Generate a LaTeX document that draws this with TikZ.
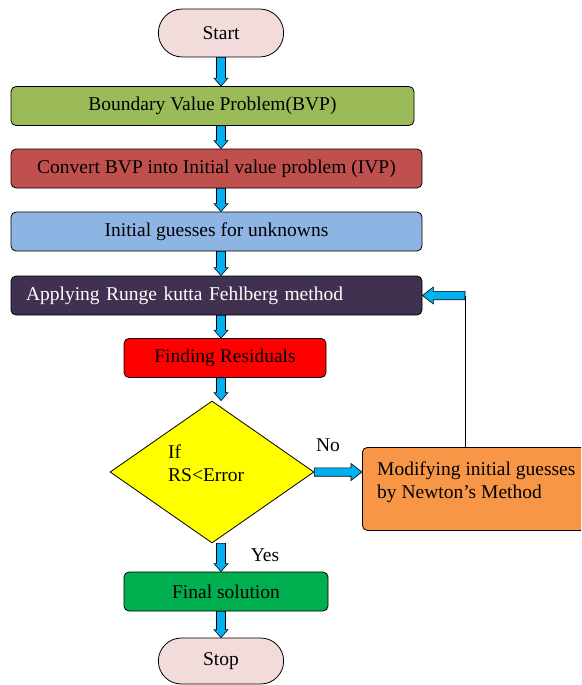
\documentclass[tikz,border=0pt]{standalone}
\usepackage{fontspec}
\setmainfont{Liberation Serif}
\usetikzlibrary{shapes.geometric,shapes.misc,calc}

\definecolor{flowpink}{RGB}{242,220,219}
\definecolor{flowolive}{RGB}{155,187,89}
\definecolor{flowbrick}{RGB}{192,80,77}
\definecolor{flowsky}{RGB}{142,180,227}
\definecolor{flowplum}{RGB}{64,49,81}
\definecolor{flowred}{RGB}{255,0,0}
\definecolor{flowyellow}{RGB}{255,255,0}
\definecolor{floworange}{RGB}{247,150,70}
\definecolor{flowgreen}{RGB}{0,176,80}
\definecolor{flowarrow}{RGB}{0,176,240}

\newcommand{\bashaft}{4.5pt}
\newcommand{\bahead}{7pt}
\newcommand{\balength}{8pt}

\tikzset{
  blockarrow/.style={draw=black,fill=flowarrow,line width=0.6pt,
    to path={($(\tikztostart)!\bashaft!90:(\tikztotarget)$)
      -- ($(\tikztotarget)!\balength!(\tikztostart)!\bashaft!-90:(\tikztostart)$)
      -- ($(\tikztotarget)!\balength!(\tikztostart)!\bahead!-90:(\tikztostart)$)
      -- (\tikztotarget)
      -- ($(\tikztotarget)!\balength!(\tikztostart)!\bahead!90:(\tikztostart)$)
      -- ($(\tikztotarget)!\balength!(\tikztostart)!\bashaft!90:(\tikztostart)$)
      -- ($(\tikztostart)!\bashaft!-90:(\tikztotarget)$)
      -- cycle}},
  widearrow/.style={blockarrow,
    /utils/exec={\def\bashaft{4.2pt}\def\bahead{8.5pt}\def\balength{11pt}}}
}

\begin{document}
\begin{tikzpicture}[x=1pt,y=-1pt,font=\fontsize{19.5}{23}\selectfont,
    terminal/.style={rounded rectangle,draw,line width=0.8pt,fill=flowpink,
      minimum width=132pt,minimum height=48pt},
    stepbox/.style={rectangle,rounded corners=5pt,draw,line width=0.8pt,
      minimum height=39pt,inner sep=0pt}]
  \clip (0,0) rectangle (581,685);

  \node[terminal] (start) at (221,33) {Start};
  \node[stepbox,fill=flowolive,minimum width=403pt] (bvp) at (212.5,106)
    {Boundary Value Problem(BVP)};
  \node[stepbox,fill=flowbrick,minimum width=411pt] (ivp) at (216.5,168.5)
    {Convert BVP into Initial value problem (IVP)};
  \node[stepbox,fill=flowsky,minimum width=411pt] (guess) at (216.5,231.5)
    {Initial guesses for unknowns};
  \node[stepbox,fill=flowplum,text=white,text width=381pt,inner xsep=15pt,
    align=left] (rkf) at (216.5,295.5) {Applying Runge kutta Fehlberg method};
  \node[stepbox,fill=flowred,minimum width=202pt] (res) at (225,358)
    {Finding Residuals};
  \node[diamond,draw,line width=0.8pt,fill=flowyellow,minimum width=204pt,
    minimum height=142pt,inner sep=0pt] (cond) at (212,472) {};
  \node[anchor=north west,align=left,inner sep=0pt] (condtext) at (168,445)
    {If\\RS<Error};
  \node[stepbox,fill=floworange,minimum width=223pt,minimum height=83pt,
    anchor=north west] (modify) at (362,447) {};
  \node[anchor=north west,align=left,inner sep=0pt] (modtext) at (377,462)
    {Modifying initial guesses\\by Newton's Method};
  \node[stepbox,fill=flowgreen,minimum width=204pt] (final) at (226,591.5)
    {Final solution};
  \node[terminal,minimum height=46pt] (stop) at (221,661) {Stop};
  \node (no) at (328,445) {No};
  \node (yes) at (265,555) {Yes};

  \foreach \a/\b in {start/bvp,bvp/ivp,ivp/guess,guess/rkf,rkf/res,res/cond,
      cond/final,final/stop} {
    \coordinate (tail) at (\a.south -| start.south);
    \coordinate (tip) at (\b.north -| start.south);
    \draw[blockarrow] (tail) to (tip);
  }

  \coordinate (noend) at (cond.east -| modify.west);
  \draw[widearrow] (cond.east) to (noend);

  \coordinate (loop) at (465,295.5);
  \draw[line width=0.8pt] (modify.north -| loop) -- (loop);
  \draw[widearrow] (loop) to (rkf.east);
\end{tikzpicture}
\end{document}
